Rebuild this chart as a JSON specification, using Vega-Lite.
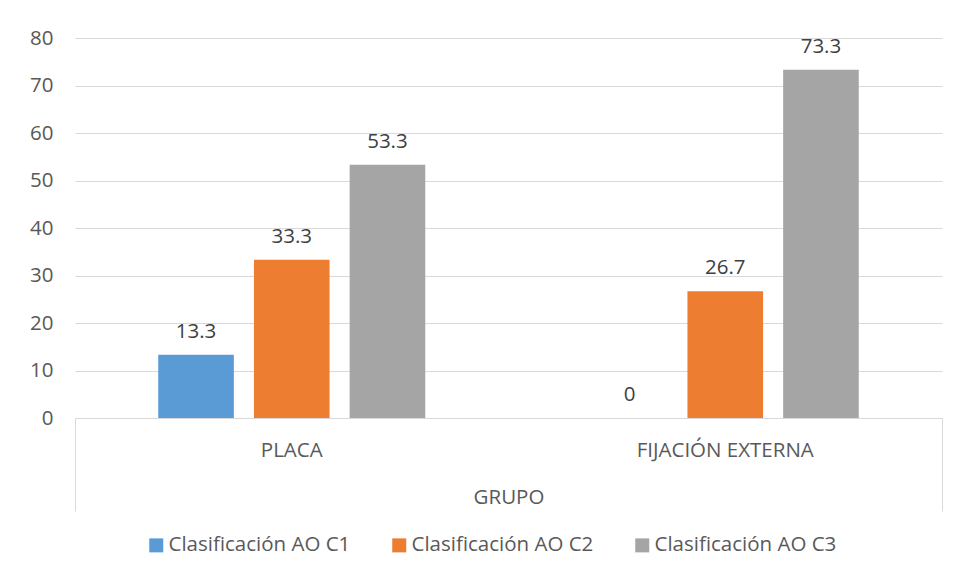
{
  "$schema": "https://vega.github.io/schema/vega-lite/v6.json",
  "width": 867,
  "height": 380,
  "autosize": {"type": "none"},
  "padding": {"left": 75, "top": 38, "right": 16, "bottom": 161},
  "background": "white",
  "config": {
    "font": "Open Sans",
    "view": {"stroke": null},
    "axis": {"labelFont": "Open Sans", "titleFont": "Open Sans"},
    "legend": {"labelFont": "Open Sans"}
  },
  "layer": [
    {
      "data": {
        "values": [
          {"grupo": "PLACA", "clasificacion": "Clasificación AO C1", "valor": 13.3},
          {"grupo": "PLACA", "clasificacion": "Clasificación AO C2", "valor": 33.3},
          {"grupo": "PLACA", "clasificacion": "Clasificación AO C3", "valor": 53.3},
          {"grupo": "FIJACIÓN EXTERNA", "clasificacion": "Clasificación AO C1", "valor": 0},
          {"grupo": "FIJACIÓN EXTERNA", "clasificacion": "Clasificación AO C2", "valor": 26.7},
          {"grupo": "FIJACIÓN EXTERNA", "clasificacion": "Clasificación AO C3", "valor": 73.3}
        ]
      },
      "encoding": {
        "x": {
          "field": "grupo",
          "type": "nominal",
          "sort": ["PLACA", "FIJACIÓN EXTERNA"],
          "scale": {"paddingInner": 0.384, "paddingOuter": 0.192},
          "axis": {
            "title": null,
            "labelAngle": 0,
            "ticks": false,
            "labelPadding": 22,
            "domainColor": "#d9d9d9",
            "domainWidth": 1,
            "labelColor": "#595959",
            "labelFontSize": 20.5
          }
        },
        "xOffset": {
          "field": "clasificacion",
          "sort": ["Clasificación AO C1", "Clasificación AO C2", "Clasificación AO C3"],
          "scale": {"paddingInner": 0.21, "paddingOuter": 0}
        },
        "y": {
          "field": "valor",
          "type": "quantitative",
          "scale": {"domain": [0, 80]},
          "axis": {
            "title": null,
            "values": [0, 10, 20, 30, 40, 50, 60, 70, 80],
            "ticks": false,
            "domain": false,
            "labelPadding": 22,
            "gridColor": "#d9d9d9",
            "gridWidth": 1,
            "labelColor": "#595959",
            "labelFontSize": 20.5
          }
        }
      },
      "layer": [
        {
          "mark": {"type": "bar"},
          "encoding": {
            "color": {
              "field": "clasificacion",
              "type": "nominal",
              "scale": {
                "domain": ["Clasificación AO C1", "Clasificación AO C2", "Clasificación AO C3"],
                "range": ["#5B9BD5", "#ED7D31", "#A5A5A5"]
              },
              "legend": {
                "title": null,
                "orient": "none",
                "legendX": 71,
                "legendY": 497,
                "direction": "horizontal",
                "symbolType": "square",
                "symbolSize": 196,
                "symbolStrokeWidth": 0,
                "labelFontSize": 20.5,
                "labelColor": "#595959",
                "labelLimit": 0,
                "labelOffset": 2,
                "columnPadding": 38
              }
            }
          }
        },
        {
          "mark": {
            "type": "text",
            "baseline": "alphabetic",
            "dy": -17,
            "fontSize": 20.5,
            "color": "#404040"
          },
          "encoding": {
            "text": {"field": "valor", "type": "quantitative", "format": ".1~f"}
          }
        }
      ]
    },
    {
      "data": {"values": [{}]},
      "mark": {"type": "rule", "opacity": 0},
      "encoding": {
        "x": {
          "datum": 0,
          "type": "quantitative",
          "scale": {"domain": [0, 1]},
          "axis": {
            "orient": "bottom",
            "values": [0, 1],
            "tickSize": 93,
            "tickWidth": 1,
            "tickColor": "#d9d9d9",
            "labels": false,
            "domain": false,
            "grid": false,
            "title": "GRUPO",
            "titleY": 85,
            "titleBaseline": "alphabetic",
            "titleFontSize": 20.5,
            "titleFontWeight": "normal",
            "titleColor": "#595959"
          }
        }
      }
    }
  ],
  "resolve": {"scale": {"x": "independent"}, "axis": {"x": "independent"}}
}
